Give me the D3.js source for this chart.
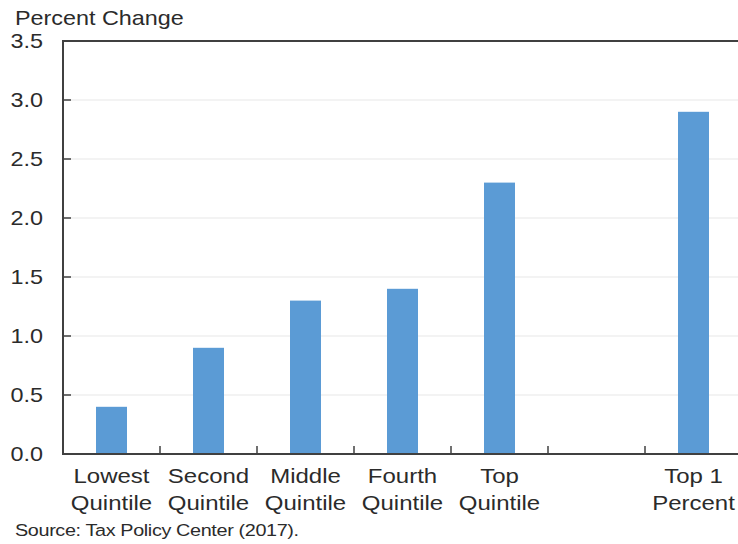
<!DOCTYPE html>
<html>
<head>
<meta charset="utf-8">
<script src="https://cdn.jsdelivr.net/npm/d3@7"></script>
<style>
  html, body { margin: 0; padding: 0; background: #fff; }
  svg { display: block; }
  text { font-family: "Liberation Sans", Arial, sans-serif; fill: #2b2b2b; }
</style>
</head>
<body>
<svg id="chart" width="738" height="544"></svg>
<script>
// ---- data ----
const categories = ["Lowest|Quintile", "Second|Quintile", "Middle|Quintile", "Fourth|Quintile", "Top|Quintile", "", "Top 1|Percent"];
const values = [0.4, 0.9, 1.3, 1.4, 2.3, null, 2.9];
const yTicks = [0, 0.5, 1.0, 1.5, 2.0, 2.5, 3.0, 3.5];
const yTitle = "Percent Change";
const source = "Source: Tax Policy Center (2017).";

(function () {
const svg = d3.select("#chart");
const pL = 63, pR = 742, pT = 41, pB = 454;
const SX = 1.17; // horizontal text stretch seen in reference

const x = d3.scaleBand().domain(d3.range(categories.length)).range([pL, pR]).paddingInner(0).paddingOuter(0);
const y = d3.scaleLinear().domain([0, 3.5]).range([pB, pT]);

// gridlines
svg.append("g").selectAll("line").data(yTicks.slice(1, -1)).join("line")
  .attr("x1", pL).attr("x2", pR)
  .attr("y1", d => y(d)).attr("y2", d => y(d))
  .attr("stroke", "#efefef").attr("stroke-width", 1.5);

// bars
const barW = 31;
svg.append("g").selectAll("rect").data(values.map((v, i) => ({v, i})).filter(d => d.v != null)).join("rect")
  .attr("x", d => x(d.i) + x.bandwidth() / 2 - barW / 2)
  .attr("width", barW)
  .attr("y", d => y(d.v))
  .attr("height", d => y(0) - y(d.v))
  .attr("fill", "#5b9bd5");

// axes lines
const axisColor = "#404040";
svg.append("line").attr("x1", pL).attr("x2", pL).attr("y1", pT).attr("y2", pB + 1)
  .attr("stroke", axisColor).attr("stroke-width", 2);
svg.append("line").attr("x1", pL - 1).attr("x2", pR).attr("y1", pB).attr("y2", pB)
  .attr("stroke", axisColor).attr("stroke-width", 2);
svg.append("line").attr("x1", pL - 1).attr("x2", pR).attr("y1", pT).attr("y2", pT)
  .attr("stroke", axisColor).attr("stroke-width", 2);

// y ticks (inward)
svg.append("g").selectAll("line").data(yTicks.slice(1, -1)).join("line")
  .attr("x1", pL).attr("x2", pL + 8)
  .attr("y1", d => y(d)).attr("y2", d => y(d))
  .attr("stroke", axisColor).attr("stroke-width", 1.5);

// x ticks at band boundaries (inward)
svg.append("g").selectAll("line").data(d3.range(1, categories.length)).join("line")
  .attr("x1", d => x(d)).attr("x2", d => x(d))
  .attr("y1", pB).attr("y2", pB - 8)
  .attr("stroke", axisColor).attr("stroke-width", 1.5);

// y tick labels
svg.append("g").selectAll("text").data(yTicks).join("text")
  .attr("transform", d => `translate(43,${y(d) + 7}) scale(${SX},1)`)
  .attr("text-anchor", "end")
  .attr("font-size", 20)
  .text(d => d3.format(".1f")(d));

// x labels
const xl = svg.append("g").selectAll("g").data(categories.map((c, i) => ({c, i})).filter(d => d.c)).join("g")
  .attr("transform", d => `translate(${x(d.i) + x.bandwidth() / 2},0)`);
xl.append("text").attr("transform", `translate(0,483) scale(${SX},1)`).attr("text-anchor", "middle")
  .attr("font-size", 20.5).text(d => d.c.split("|")[0]);
xl.append("text").attr("transform", `translate(0,510) scale(${SX},1)`).attr("text-anchor", "middle")
  .attr("font-size", 20.5).text(d => d.c.split("|")[1]);

// y title
svg.append("text").attr("transform", `translate(15,25) scale(1.14,1)`).attr("font-size", 20.5).text(yTitle);

// source
svg.append("text").attr("transform", `translate(15,536) scale(1.2,1)`).attr("font-size", 16.5)
  .attr("letter-spacing", -0.3).text(source);
})();
</script>
</body>
</html>
